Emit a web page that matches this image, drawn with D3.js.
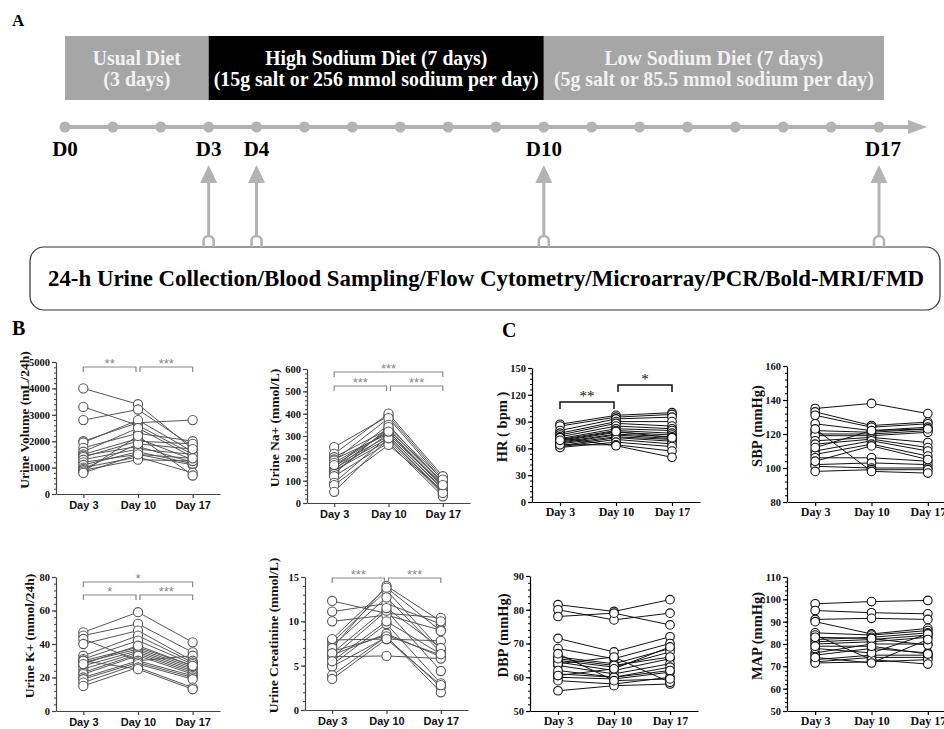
<!DOCTYPE html>
<html>
<head>
<meta charset="utf-8">
<script src="https://cdn.jsdelivr.net/npm/d3@7"></script>
<style>
body { margin: 0; background: #fff; }
text { font-family: "Liberation Serif", "Times New Roman", serif; }
</style>
</head>
<body>
<svg width="944" height="729"></svg>
<script>
// ---- panel A data ----
var timelineDays = [0, 1, 2, 3, 4, 5, 6, 7, 8, 9, 10, 11, 12, 13, 14, 15, 16, 17];
var labelDays = [0, 3, 4, 10, 17];
var labelNames = ["D0", "D3", "D4", "D10", "D17"];
var sampleDays = [3, 4, 10, 17];
var phaseStart = [0, 3, 10];
var phaseEnd = [3, 10, 17];
var phaseTitle = ["Usual Diet", "High Sodium Diet (7 days)", "Low Sodium Diet (7 days)"];
var phaseNote = ["(3 days)", "(15g salt or 256 mmol sodium per day)", "(5g salt or 85.5 mmol sodium per day)"];
var boxText = "24-h Urine Collection/Blood Sampling/Flow Cytometry/Microarray/PCR/Bold-MRI/FMD";

// ---- panels B and C data: one row per subject, [Day 3, Day 10, Day 17] ----
var days = ["Day 3", "Day 10", "Day 17"];

var urineVolume = [
  [4000, 3400, 1700], [3300, 2600, 1500], [2800, 3200, 1800], [2000, 2700, 2800],
  [1950, 2800, 1600], [1750, 2300, 2000], [1600, 2500, 1400], [1500, 2100, 1300],
  [1450, 1800, 1200], [1400, 2000, 1900], [1300, 1700, 1500], [1200, 1500, 1100],
  [1100, 1600, 1150], [1000, 1400, 800], [950, 1900, 1700], [900, 1300, 1250],
  [850, 2200, 700], [800, 1500, 1350]
];
var urineNa = [
  [250, 390, 110], [220, 400, 120], [205, 330, 90], [195, 310, 80],
  [190, 380, 100], [180, 320, 70], [165, 300, 60], [160, 350, 85],
  [155, 290, 50], [150, 330, 95], [145, 280, 40], [140, 310, 75],
  [130, 340, 105], [120, 270, 30], [90, 300, 65], [80, 260, 55],
  [50, 290, 45], [170, 320, 80]
];
var urineK = [
  [47, 59, 41], [45, 52, 35], [43, 30, 33], [40, 48, 30],
  [33, 45, 29], [31, 42, 28], [30, 38, 27], [29, 37, 26],
  [27, 36, 25], [25, 35, 24], [23, 34, 23], [22, 33, 22],
  [20, 30, 21], [19, 29, 20], [17, 28, 19], [15, 26, 14],
  [30, 25, 13], [28, 39, 27]
];
var urineCr = [
  [12.3, 10.9, 10.4], [11.1, 12.0, 9.7], [10.0, 10.7, 9.0], [7.9, 8.0, 7.8],
  [7.6, 13.5, 6.8], [7.2, 12.7, 6.5], [6.6, 8.4, 6.2], [6.2, 8.6, 6.0],
  [6.0, 6.1, 5.8], [5.9, 11.2, 4.4], [5.1, 9.7, 3.0], [4.9, 8.2, 2.6],
  [3.9, 8.3, 2.0], [3.5, 8.0, 2.8], [7.0, 14.0, 10.0], [6.4, 11.5, 7.0],
  [5.5, 10.0, 6.3], [8.0, 13.8, 8.9]
];
var heartRate = [
  [87, 97, 100], [85, 95, 98], [80, 93, 95], [77, 90, 90],
  [75, 88, 85], [73, 85, 82], [71, 82, 80], [70, 80, 77],
  [68, 78, 75], [67, 76, 73], [66, 75, 71], [65, 73, 70],
  [63, 72, 68], [62, 70, 65], [61, 67, 62], [64, 64, 57],
  [72, 63, 50], [69, 79, 72]
];
var sbp = [
  [135, 138, 132], [133, 125, 127], [131, 124, 126], [126, 122, 124],
  [122, 121, 123], [120, 120, 122], [119, 119, 121], [116, 118, 115],
  [114, 117, 112], [110, 116, 110], [108, 114, 107], [106, 106, 104],
  [102, 103, 102], [101, 100, 100], [98, 99, 99], [123, 98, 97],
  [112, 122, 123], [104, 113, 105]
];
var dbp = [
  [81.5, 79.5, 83], [80, 77, 79], [78, 79, 75.5], [71.5, 67.5, 72],
  [68.5, 65.5, 70], [66, 64, 68.5], [65, 63, 67.5], [64.5, 62, 65.5],
  [63.5, 61, 64], [61, 60, 63], [60, 59.5, 61.5], [59, 58, 60],
  [56, 57.5, 58], [64, 66, 58.5], [62, 60, 62], [65.5, 63.5, 66],
  [67, 59, 59.5], [60.5, 62.5, 69]
];
var map = [
  [98, 99, 99.5], [95, 94, 93.5], [91, 91.5, 91], [90, 84.5, 87],
  [85, 84, 86], [82, 83, 85], [81, 82, 84], [80, 81, 83],
  [76, 80, 80], [75, 78, 76], [73, 75, 75], [72, 74, 74],
  [71.5, 72, 73], [84, 73, 71], [78, 76, 84.5], [83, 82.5, 79.5],
  [79, 79, 75.5], [74, 71.5, 82]
];

var svg = d3.select("svg");

// =================== Panel A ===================
svg.append("text").attr("x", 12).attr("y", 26)
  .style("font-size", "17px").style("font-weight", "bold").text("A");

var tx = d3.scaleLinear().domain([0, 17]).range([65, 879]);
var grey = "#b3b3b3";

var phase = svg.append("g");
phaseStart.forEach(function (s, i) {
  var x0 = tx(s), x1 = tx(phaseEnd[i]) + (i == 2 ? 5 : 0);
  var fill = i == 1 ? "#000" : "#a6a6a6";
  var col = i == 1 ? "#fff" : "#f2f2f2";
  phase.append("rect").attr("x", x0).attr("y", 36)
    .attr("width", x1 - x0).attr("height", 64).attr("fill", fill);
  var cx = (x0 + x1) / 2;
  var w1 = [88, 222, 219][i], w2 = [67, 325, 320][i];
  phase.append("text").attr("x", cx).attr("y", 65).attr("text-anchor", "middle")
    .attr("textLength", w1).attr("lengthAdjust", "spacingAndGlyphs")
    .style("font-size", "20.5px").style("font-weight", "bold").attr("fill", col)
    .text(phaseTitle[i]);
  phase.append("text").attr("x", cx).attr("y", 86).attr("text-anchor", "middle")
    .attr("textLength", w2).attr("lengthAdjust", "spacingAndGlyphs")
    .style("font-size", "20.5px").style("font-weight", "bold").attr("fill", col)
    .text(phaseNote[i]);
});

// timeline
svg.append("line").attr("x1", tx(0)).attr("x2", 912).attr("y1", 127).attr("y2", 127)
  .attr("stroke", grey).attr("stroke-width", 4);
svg.append("path").attr("d", "M908,120 L927,127 L908,134 Z").attr("fill", grey);
svg.selectAll(".tdot").data(timelineDays).enter().append("circle")
  .attr("cx", function (d) { return tx(d); }).attr("cy", 127).attr("r", 5.5)
  .attr("fill", grey);
svg.selectAll(".dlab").data(labelDays).enter().append("text")
  .attr("x", function (d) { return tx(d) + (d == 17 ? 4 : 0); }).attr("y", 156)
  .attr("text-anchor", "middle")
  .style("font-size", "21px").style("font-weight", "bold")
  .text(function (d, i) { return labelNames[i]; });

// box
svg.append("rect").attr("x", 30).attr("y", 247).attr("width", 910).attr("height", 63)
  .attr("rx", 14).attr("fill", "#fff").attr("stroke", "#333").attr("stroke-width", 1.2);
svg.append("text").attr("x", 486).attr("y", 286).attr("text-anchor", "middle")
  .attr("textLength", 876).attr("lengthAdjust", "spacingAndGlyphs")
  .style("font-size", "23px").style("font-weight", "bold").text(boxText);

// arrows
sampleDays.forEach(function (d) {
  var x = tx(d);
  svg.append("line").attr("x1", x).attr("x2", x).attr("y1", 180).attr("y2", 236)
    .attr("stroke", grey).attr("stroke-width", 3);
  svg.append("path").attr("d", "M" + x + ",165 L" + (x - 8.5) + ",183 L" + (x + 8.5) + ",183 Z")
    .attr("fill", grey);
  svg.append("path")
    .attr("d", "M" + (x - 5) + ",247 V241 A5,5 0 0 1 " + (x + 5) + ",241 V247")
    .attr("fill", "none").attr("stroke", grey).attr("stroke-width", 2.6);
});

// =================== Panels B & C ===================
svg.append("text").attr("x", 12).attr("y", 335)
  .style("font-size", "20px").style("font-weight", "bold").text("B");
svg.append("text").attr("x", 502).attr("y", 337)
  .style("font-size", "20px").style("font-weight", "bold").text("C");

function panel(cfg) {
  var B = cfg.style == "B";
  var ink = B ? "#444" : "#000";
  var g = svg.append("g");
  var x = d3.scalePoint().domain(days).range([cfg.left, cfg.right]).padding(0.5);
  var y = d3.scaleLinear().domain(cfg.domain).range([cfg.bottom, cfg.top]);

  // minor ticks
  var minor = [];
  var step = (cfg.ticks[1] - cfg.ticks[0]) / 5;
  for (var v = cfg.domain[0]; v <= cfg.domain[1] + 1e-9; v += step) minor.push(v);
  g.append("g").attr("transform", "translate(" + cfg.left + ",0)")
    .call(d3.axisLeft(y).tickValues(minor).tickSize(2).tickFormat(""))
    .call(function (s) { s.select(".domain").remove(); s.selectAll("line").attr("stroke", ink); });

  var ya = g.append("g").attr("transform", "translate(" + cfg.left + ",0)")
    .call(d3.axisLeft(y).tickValues(cfg.ticks).tickFormat(d3.format("d"))
      .tickSize(4).tickSizeOuter(0).tickPadding(2));
  ya.selectAll("path,line").attr("stroke", ink).attr("stroke-width", 1.2);
  ya.selectAll("text").attr("fill", "#111")
    .style("font-family", "'Liberation Serif', serif").style("font-weight", "bold")
    .style("font-size", "10.5px");

  var xa = g.append("g").attr("transform", "translate(0," + cfg.bottom + ")")
    .call(d3.axisBottom(x).tickSize(4).tickSizeOuter(0).tickPadding(B ? 3 : 1));
  xa.selectAll("path,line").attr("stroke", ink).attr("stroke-width", 1.2);
  xa.selectAll("text").attr("fill", "#111").style("font-weight", "bold")
    .style("font-family", B ? "'Liberation Sans', Arial, sans-serif" : "'Liberation Serif', serif")
    .style("font-size", B ? "11px" : "12px");

  // y label
  var ly = (cfg.top + cfg.bottom) / 2 - 8;
  g.append("text").attr("transform", "translate(" + (cfg.labelX + 5) + "," + ly + ") rotate(-90)")
    .attr("text-anchor", "middle").attr("fill", "#111")
    .style("font-size", B ? "13.5px" : "14.5px").style("font-weight", "bold")
    .text(cfg.label);

  // subject lines and markers
  var line = d3.line().x(function (d, i) { return x(days[i]); }).y(function (d) { return y(d); });
  g.selectAll(".subj").data(cfg.data).enter().append("path")
    .attr("d", line).attr("fill", "none")
    .attr("stroke", B ? "#555" : "#111").attr("stroke-width", 1);
  cfg.data.forEach(function (row) {
    g.selectAll(null).data(row).enter().append("circle")
      .attr("cx", function (d, i) { return x(days[i]); })
      .attr("cy", function (d) { return y(d); })
      .attr("r", B ? 4.6 : 4.3)
      .attr("fill", "#fff").attr("stroke", B ? "#555" : "#111").attr("stroke-width", 1.1);
  });

  // significance brackets
  (cfg.brackets || []).forEach(function (b) {
    var x0 = x(days[b.from]) + (b.from == 1 ? 2 : 0);
    var x1 = x(days[b.to]) - (b.to == 1 ? 2 : 0);
    var col = B ? "#888" : "#111";
    var tick = B ? 5 : 7;
    g.append("path")
      .attr("d", "M" + x0 + "," + (b.y + tick) + " V" + b.y + " H" + x1 + " V" + (b.y + tick))
      .attr("fill", "none").attr("stroke", col).attr("stroke-width", B ? 1.2 : 1.5);
    g.append("text").attr("x", (x0 + x1) / 2).attr("y", b.y + (B ? 0.5 : -1))
      .attr("text-anchor", "middle").attr("fill", col)
      .style("font-family", B ? "'Liberation Sans', Arial, sans-serif" : "'Liberation Serif', serif")
      .style("font-size", B ? "13px" : "15px")
      .text(b.text);
  });
}

panel({ style: "B", data: urineVolume, label: "Urine Volume (mL/24h)", labelX: 24,
  left: 56, right: 220, top: 362, bottom: 494, domain: [0, 5000],
  ticks: [0, 1000, 2000, 3000, 4000, 5000],
  brackets: [{ from: 0, to: 1, y: 367, text: "**" }, { from: 1, to: 2, y: 367, text: "***" }] });
panel({ style: "B", data: urineNa, label: "Urine Na+ (mmol/L)", labelX: 274,
  left: 307, right: 470, top: 369, bottom: 503, domain: [0, 600],
  ticks: [0, 100, 200, 300, 400, 500, 600],
  brackets: [{ from: 0, to: 2, y: 372, text: "***" }, { from: 0, to: 1, y: 386, text: "***" },
             { from: 1, to: 2, y: 386, text: "***" }] });
panel({ style: "B", data: urineK, label: "Urine K+ (mmol/24h)", labelX: 29,
  left: 56, right: 220, top: 577, bottom: 711, domain: [0, 80],
  ticks: [0, 20, 40, 60, 80],
  brackets: [{ from: 0, to: 2, y: 582, text: "*" }, { from: 0, to: 1, y: 595, text: "*" },
             { from: 1, to: 2, y: 595, text: "***" }] });
panel({ style: "B", data: urineCr, label: "Urine Creatinine (mmol/L)", labelX: 273,
  left: 305, right: 468, top: 577, bottom: 710, domain: [0, 15],
  ticks: [0, 5, 10, 15],
  brackets: [{ from: 0, to: 1, y: 578, text: "***" }, { from: 1, to: 2, y: 578, text: "***" }] });

panel({ style: "C", data: heartRate, label: "HR ( bpm )", labelX: 502,
  left: 532, right: 700, top: 368, bottom: 502, domain: [0, 150],
  ticks: [0, 30, 60, 90, 120, 150],
  brackets: [{ from: 0, to: 1, y: 402, text: "**" }, { from: 1, to: 2, y: 385, text: "*" }] });
panel({ style: "C", data: sbp, label: "SBP (mmHg)", labelX: 757,
  left: 787, right: 956, top: 366, bottom: 502, domain: [80, 160],
  ticks: [80, 100, 120, 140, 160] });
panel({ style: "C", data: dbp, label: "DBP (mmHg)", labelX: 503,
  left: 530, right: 698, top: 576, bottom: 711, domain: [50, 90],
  ticks: [50, 60, 70, 80, 90] });
panel({ style: "C", data: map, label: "MAP (mmHg)", labelX: 757,
  left: 787, right: 956, top: 577, bottom: 711, domain: [50, 110],
  ticks: [50, 60, 70, 80, 90, 100, 110] });
</script>
</body>
</html>
